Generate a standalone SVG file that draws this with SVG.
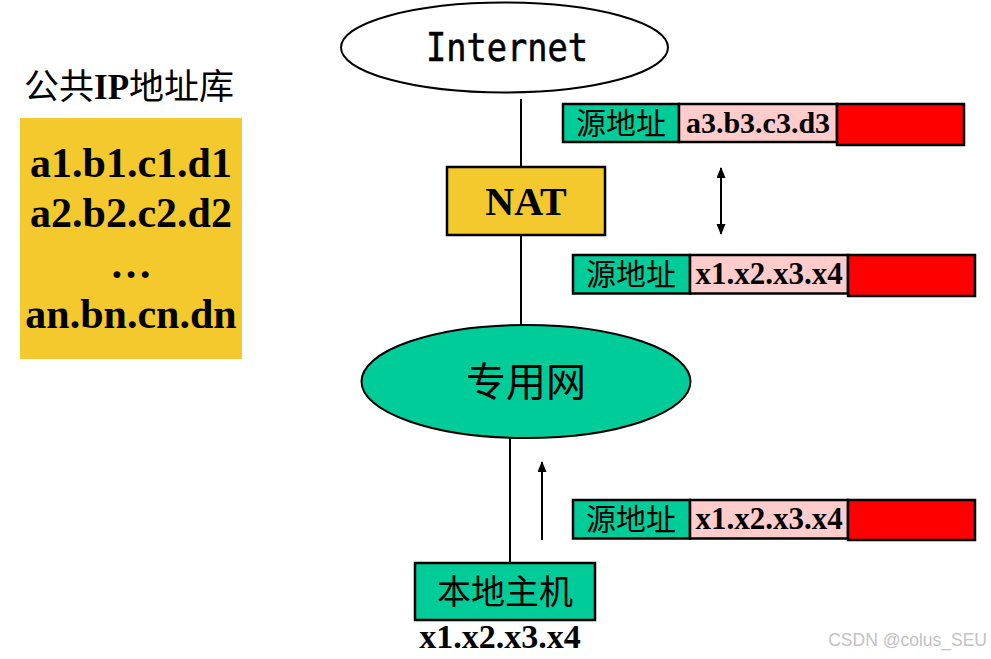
<svg xmlns="http://www.w3.org/2000/svg" width="991" height="659" viewBox="0 0 991 659">
<style>
.cjk{font-family:"Liberation Serif","Noto Sans CJK SC",serif;fill:#000}
.bt{font-family:"Liberation Serif",serif;font-weight:bold;fill:#000}
.box{stroke:#000;stroke-width:2.5}
.g{fill:#00CC99}
.p{fill:#FFCCCC}
.r{fill:#FF0000}
.y{fill:#F3C92E}
.ln{stroke:#000;stroke-width:2;fill:none}
</style>
<defs>
<marker id="ah" markerUnits="userSpaceOnUse" markerWidth="12" markerHeight="10" refX="10" refY="4.5" orient="auto-start-reverse" viewBox="0 0 12 10">
<path d="M0,0 L11,4.5 L0,9 z" fill="#000"/>
</marker>
</defs>
<rect width="991" height="659" fill="#fff"/>

<g id="connectors">
<line class="ln" x1="521" y1="99" x2="521" y2="167"/>
<line class="ln" x1="521" y1="235" x2="521" y2="325"/>
<line class="ln" x1="510" y1="438" x2="510" y2="563"/>
<line class="ln" x1="721" y1="168" x2="721" y2="234" marker-start="url(#ah)" marker-end="url(#ah)"/>
<line class="ln" x1="542" y1="540" x2="542" y2="462" marker-end="url(#ah)"/>
</g>

<g id="pool">
<text class="cjk" x="24" y="99" font-size="35">公共<tspan font-weight="bold">IP</tspan>地址库</text>
<rect x="20" y="118" width="222" height="241" class="y"/>
<text class="bt" x="131" y="177" font-size="42" text-anchor="middle">a1.b1.c1.d1</text>
<text class="bt" x="131" y="227" font-size="42" text-anchor="middle">a2.b2.c2.d2</text>
<text class="bt" x="131" y="278" font-size="42" text-anchor="middle">…</text>
<text class="bt" x="131" y="328" font-size="42" text-anchor="middle">an.bn.cn.dn</text>
</g>

<g id="internet">
<ellipse cx="504.5" cy="47.5" rx="163.5" ry="45" fill="#fff" stroke="#000" stroke-width="2"/>
<text x="507" y="61" font-family="DejaVu Sans Mono, monospace" font-size="39" text-anchor="middle" textLength="162" lengthAdjust="spacingAndGlyphs" stroke="#000" stroke-width="0.6">Internet</text>
</g>

<g id="nat">
<rect x="447" y="167" width="158" height="68" class="y box"/>
<text class="bt" x="526" y="215" font-size="40" text-anchor="middle">NAT</text>
</g>

<g id="packet-public">
<rect x="563" y="104" width="116" height="38" class="g box"/>
<rect x="679" y="104" width="158" height="38" class="p box"/>
<rect x="837" y="104" width="127" height="41" class="r box"/>
<text class="cjk" x="621" y="134" font-size="30" text-anchor="middle">源地址</text>
<text class="bt" x="758" y="133" font-size="30" text-anchor="middle">a3.b3.c3.d3</text>
</g>

<g id="packet-private-nat">
<rect x="573" y="255" width="117" height="38.5" class="g box"/>
<rect x="690" y="255" width="158" height="38.5" class="p box"/>
<rect x="848" y="255" width="127" height="41" class="r box"/>
<text class="cjk" x="631" y="285" font-size="30" text-anchor="middle">源地址</text>
<text class="bt" x="769" y="284" font-size="31" text-anchor="middle">x1.x2.x3.x4</text>
</g>

<g id="private-net">
<ellipse cx="526" cy="381.5" rx="164.5" ry="56.5" class="g" stroke="#000" stroke-width="2"/>
<text class="cjk" x="526" y="396" font-size="40" text-anchor="middle">专用网</text>
</g>

<g id="packet-host">
<rect x="573" y="500" width="117" height="38.5" class="g box"/>
<rect x="690" y="500" width="158" height="38.5" class="p box"/>
<rect x="848" y="500" width="127" height="40" class="r box"/>
<text class="cjk" x="631" y="530" font-size="30" text-anchor="middle">源地址</text>
<text class="bt" x="769" y="529" font-size="31" text-anchor="middle">x1.x2.x3.x4</text>
</g>

<g id="host">
<rect x="415" y="563" width="180" height="57" class="g box"/>
<text class="cjk" x="505" y="604" font-size="34" text-anchor="middle">本地主机</text>
<text class="bt" x="500" y="648" font-size="34" text-anchor="middle">x1.x2.x3.x4</text>
</g>

<text x="987" y="646" font-family="Liberation Sans, sans-serif" font-size="17.5" fill="#c2c2c2" text-anchor="end">CSDN @colus_SEU</text>
</svg>
